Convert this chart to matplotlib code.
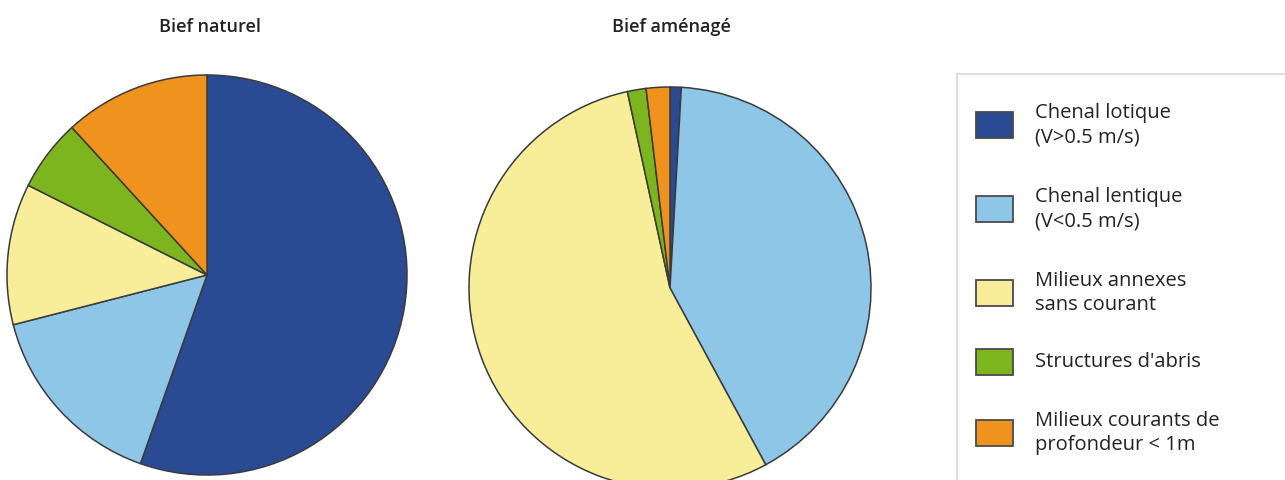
import matplotlib
matplotlib.use('Agg')
import matplotlib.pyplot as plt
from matplotlib.patches import Rectangle

plt.rcParams['font.family'] = ['Open Sans', 'DejaVu Sans']

# Données (% de surface)
categories = ['Chenal lotique\n(V>0.5 m/s)',
              'Chenal lentique\n(V<0.5 m/s)',
              'Milieux annexes\nsans courant',
              "Structures d'abris",
              'Milieux courants de\nprofondeur < 1m']
naturel = [55.4, 15.6, 11.4, 5.8, 11.8]
amenage = [0.9, 41.2, 54.5, 1.5, 1.9]
couleurs = ['#2a4a94', '#8ec6e8', '#f8ee9a', '#7db51f', '#f0931e']
titres = ['Bief naturel', 'Bief aménagé']

W, H = 1285, 480
fig = plt.figure(figsize=(W / 100, H / 100), dpi=100)
PAD = 1.04


def pie_axes(cx, cy, r):
    # cx, cy en pixels depuis le haut de l'image
    R = r * PAD
    return fig.add_axes([(cx - R) / W, (H - cy - R) / H, 2 * R / W, 2 * R / H])


def draw_pie(ax, values):
    ax.pie(values, colors=couleurs, startangle=90, counterclock=False,
           wedgeprops=dict(edgecolor='#3a3a3a', linewidth=1.1))
    ax.set_xlim(-PAD, PAD)
    ax.set_ylim(-PAD, PAD)
    ax.set_aspect('equal')
    ax.axis('off')


ax1 = pie_axes(207, 275, 200)
draw_pie(ax1, naturel)
ax2 = pie_axes(670, 288, 201)
draw_pie(ax2, amenage)

fig.text(210 / W, 1 - 27 / H, titres[0], ha='center', va='center',
         fontsize=13, fontweight='semibold', color='#222222')
fig.text(671 / W, 1 - 27 / H, titres[1], ha='center', va='center',
         fontsize=13, fontweight='semibold', color='#222222')

# Légende dessinée à la main
lg = fig.add_axes([0, 0, 1, 1])
lg.set_xlim(0, W)
lg.set_ylim(H, 0)
lg.axis('off')
lg.add_patch(Rectangle((957, 74), 400, 420, facecolor='white',
                       edgecolor='#d8d8d8', linewidth=1.2))
ys = [125, 209, 293, 362, 433]
for y, lab, c in zip(ys, categories, couleurs):
    lg.add_patch(Rectangle((976, y - 13), 37, 26, facecolor=c,
                           edgecolor='#4a4a4a', linewidth=1.3))
    lg.text(1035, y, lab, ha='left', va='center', fontsize=14.5,
            color='#222222', linespacing=1.32)

fig.savefig('out.png', dpi=100)
